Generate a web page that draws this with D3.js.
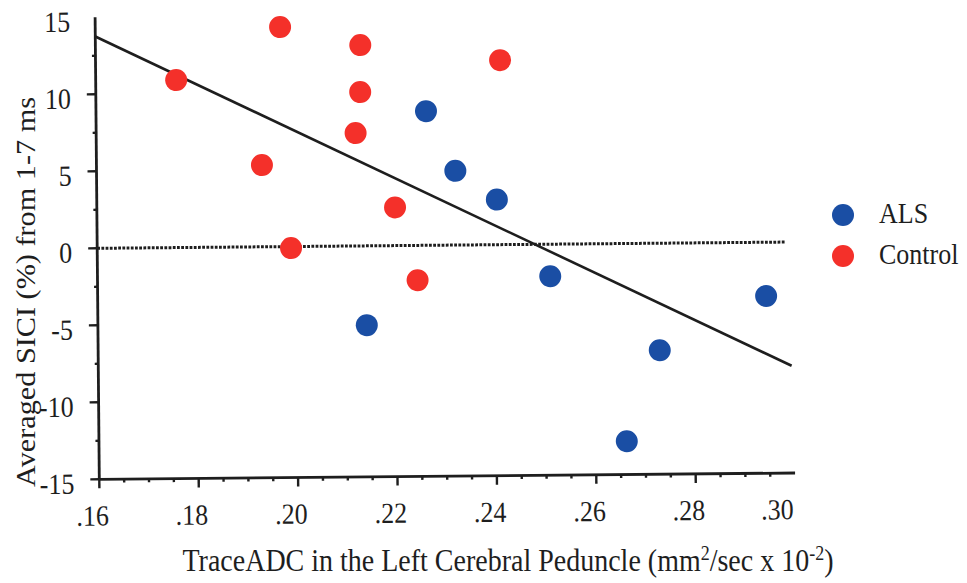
<!DOCTYPE html>
<html>
<head>
<meta charset="utf-8">
<script src="https://cdn.jsdelivr.net/npm/d3@7"></script>
<style>
  html, body { margin: 0; padding: 0; background: #fff; }
  svg { display: block; }
  text { font-family: "Liberation Serif", "Times New Roman", serif; fill: #1e1e1e; }
</style>
</head>
<body>
<svg id="chart" width="967" height="583"></svg>
<script>
// TraceADC (x) and averaged SICI % (y) for each group
const alsX = [0.2264, 0.2322, 0.2405, 0.2511, 0.2141, 0.2730, 0.2662, 0.2945];
const alsY = [8.71, 4.82, 2.93, -2.08, -5.15, -6.95, -12.84, -3.49];
const controlX = [0.1762, 0.1972, 0.2133, 0.2132, 0.2122, 0.1933, 0.2200, 0.1990, 0.2244, 0.2414];
const controlY = [10.88, 14.26, 13.04, 9.99, 7.33, 5.31, 2.48, -0.1, -2.26, 11.98];

const xTickValues = [0.16, 0.18, 0.20, 0.22, 0.24, 0.26, 0.28, 0.30];
const xTickLabels = [".16", ".18", ".20", ".22", ".24", ".26", ".28", ".30"];
const yTickValues = [-15, -10, -5, 0, 5, 10, 15];
const yTickLabels = ["-15", "-10", "-5", "0", "5", "10", "15"];

const groups = [
  { name: "ALS", color: "#1a4ea4", xs: alsX, ys: alsY },
  { name: "Control", color: "#f4302a", xs: controlX, ys: controlY }
];

const svg = d3.select("#chart");
const ink = "#1e1e1e";
const stretch = 1.12;   // type is set slightly tall

const x = d3.scaleLinear().domain([0.16, 0.30]).range([0, 695.8]);
const y = d3.scaleLinear().domain([-15, 15]).range([0, -462]);

// plot area, set a hair off level
const plot = svg.append("g").attr("transform", "translate(99.3,479.3) rotate(-0.52)");

// zero reference line
plot.append("line")
  .attr("x1", x(0.16)).attr("x2", x(0.2985))
  .attr("y1", y(0)).attr("y2", y(0))
  .attr("stroke", ink).attr("stroke-width", 3).attr("stroke-dasharray", "2.8,1.4");

// least-squares fit over all subjects
const allX = alsX.concat(controlX), allY = alsY.concat(controlY);
const mx = d3.mean(allX), my = d3.mean(allY);
const slope = d3.sum(allX, (v, i) => (v - mx) * (allY[i] - my)) / d3.sum(allX, v => (v - mx) * (v - mx));
const fit = v => my + slope * (v - mx);
const fitX = [0.16, 0.2995];
plot.append("path")
  .attr("d", d3.line().x(d => x(d)).y(d => y(fit(d)))(fitX))
  .attr("fill", "none").attr("stroke", ink).attr("stroke-width", 2.6);

// axes
plot.append("line").attr("x1", x(0.16)).attr("x2", x(0.30)).attr("y1", 0).attr("y2", 0)
  .attr("stroke", ink).attr("stroke-width", 2.8);
plot.append("line").attr("x1", 0).attr("x2", 0).attr("y1", y(-15)).attr("y2", y(15))
  .attr("stroke", ink).attr("stroke-width", 2.8);

const xMinor = d3.range(0.165, 0.2999, 0.005).filter(v => Math.abs((v * 100) % 2) > 0.1);
const xMajor = xTickValues.slice(0, -1);
plot.selectAll(".xminor").data(xMinor).join("line")
  .attr("x1", d => x(d)).attr("x2", d => x(d)).attr("y1", 0).attr("y2", 3.5)
  .attr("stroke", ink).attr("stroke-width", 2.4);
plot.selectAll(".xmajor").data(xMajor).join("line")
  .attr("x1", d => x(d)).attr("x2", d => x(d)).attr("y1", 0).attr("y2", 9)
  .attr("stroke", ink).attr("stroke-width", 2.4);

const yMinor = d3.range(-12.5, 15, 5);
const yMajor = yTickValues.slice(0, -1);
plot.selectAll(".yminor").data(yMinor).join("line")
  .attr("x1", -3.5).attr("x2", 0).attr("y1", d => y(d)).attr("y2", d => y(d))
  .attr("stroke", ink).attr("stroke-width", 2.4);
plot.selectAll(".ymajor").data(yMajor).join("line")
  .attr("x1", -9).attr("x2", 0).attr("y1", d => y(d)).attr("y2", d => y(d))
  .attr("stroke", ink).attr("stroke-width", 2.4);

// tick labels
plot.selectAll(".xlab").data(xTickValues).join("text")
  .attr("transform", (d, i) => `translate(${x(d) + (i === xTickValues.length - 1 ? -18 : -7)},36) scale(1,${stretch})`)
  .attr("text-anchor", "middle").attr("dy", "0.35em")
  .attr("font-size", 26)
  .text((d, i) => xTickLabels[i]);

plot.selectAll(".ylab").data(yTickValues).join("text")
  .attr("transform", d => `translate(-25,${y(d) + 4}) scale(1,${stretch})`)
  .attr("text-anchor", "end").attr("dy", "0.35em")
  .attr("font-size", 26)
  .text((d, i) => yTickLabels[i]);

// data points
groups.forEach(g => {
  plot.selectAll(null).data(g.xs.map((v, i) => [v, g.ys[i]])).join("circle")
    .attr("cx", d => x(d[0])).attr("cy", d => y(d[1])).attr("r", 11)
    .attr("fill", g.color);
});

// axis titles
const xTitle = svg.append("text")
  .attr("transform", `translate(508,571) scale(1,${stretch})`)
  .attr("text-anchor", "middle").attr("font-size", 28);
xTitle.append("tspan").text("TraceADC in the Left Cerebral Peduncle (mm");
xTitle.append("tspan").attr("font-size", 18).attr("dy", -10).text("2");
xTitle.append("tspan").attr("dy", 10).text("/sec x 10");
xTitle.append("tspan").attr("font-size", 18).attr("dy", -10).text("-2");
xTitle.append("tspan").attr("dy", 10).text(")");

svg.append("text")
  .attr("transform", `translate(35,292) scale(1,${stretch}) rotate(-90)`)
  .attr("text-anchor", "middle").attr("font-size", 27)
  .text("Averaged SICI (%) from 1-7 ms");

// legend
const legend = svg.append("g");
groups.forEach((g, i) => {
  const cy = 215 + i * 41;
  legend.append("circle").attr("cx", 843).attr("cy", cy).attr("r", 11).attr("fill", g.color);
  legend.append("text")
    .attr("transform", `translate(879,${cy + 8}) scale(1,${stretch})`)
    .attr("font-size", 26).text(g.name);
});
</script>
</body>
</html>
